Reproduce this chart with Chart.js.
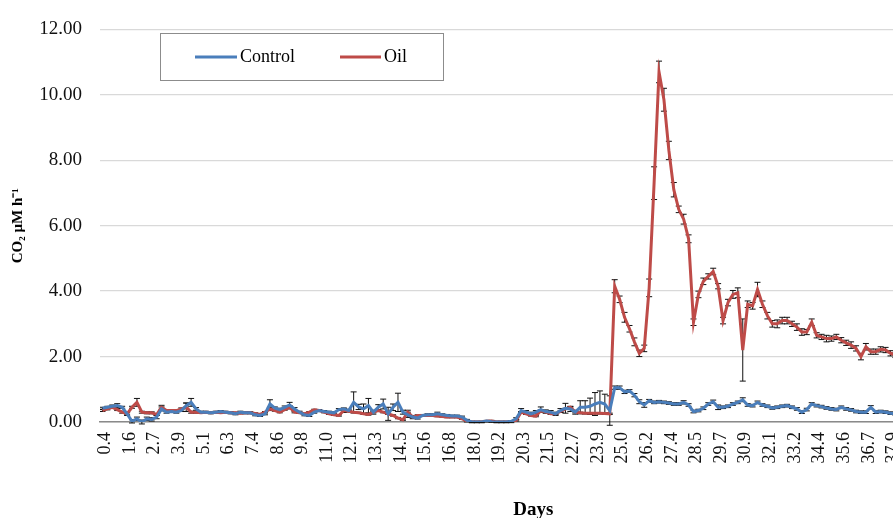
<!DOCTYPE html>
<html><head><meta charset="utf-8">
<script src="https://cdn.jsdelivr.net/npm/chart.js@4"></script>
<style>html,body{margin:0;padding:0;overflow:hidden;background:#fff}#wrap{position:absolute;left:0;top:0;width:996px;height:518px}</style>
</head><body><div id="wrap"><canvas id="c"></canvas></div>
<script>
// Tick labels (Days), one every 5 measurements
const tickLabels = ['0.4','1.6','2.7','3.9','5.1','6.3','7.4','8.6','9.8','11.0','12.1','13.3','14.5','15.6','16.8','18.0','19.2','20.3','21.5','22.7','23.9','25.0','26.2','27.4','28.5','29.7','30.9','32.1','33.2','34.4','35.6','36.7','37.9','39.1','40.3','41.4'];
const POINTS_PER_TICK = 5;
const seriesNames = ['Control','Oil'];

const control = [
0.42,0.45,0.48,0.50,0.45,0.25,0.02,0.10,0.00,0.10,
0.08,0.15,0.40,0.30,0.32,0.30,0.35,0.50,0.60,0.40,
0.30,0.30,0.28,0.30,0.32,0.30,0.28,0.25,0.30,0.28,
0.28,0.22,0.20,0.25,0.55,0.42,0.38,0.45,0.52,0.40,
0.30,0.22,0.20,0.30,0.35,0.32,0.30,0.28,0.38,0.40,
0.35,0.60,0.46,0.40,0.50,0.30,0.45,0.55,0.25,0.45,
0.60,0.30,0.22,0.15,0.12,0.20,0.22,0.22,0.25,0.22,
0.20,0.18,0.18,0.15,0.05,0.00,0.00,0.00,0.03,0.01,
0.00,0.00,0.00,0.02,0.10,0.35,0.30,0.25,0.30,0.38,
0.32,0.30,0.25,0.35,0.42,0.40,0.30,0.45,0.45,0.48,
0.55,0.60,0.55,0.35,1.05,1.05,0.92,0.95,0.82,0.62,
0.52,0.65,0.60,0.62,0.60,0.58,0.55,0.55,0.60,0.52,
0.32,0.35,0.42,0.55,0.62,0.45,0.45,0.48,0.55,0.60,
0.68,0.52,0.50,0.60,0.52,0.48,0.43,0.45,0.48,0.50,
0.45,0.40,0.30,0.38,0.55,0.50,0.47,0.43,0.40,0.38,
0.45,0.40,0.37,0.32,0.30,0.30,0.45,0.30,0.32,0.30,
0.27,0.25,0.28,0.30,0.27,0.25,0.30,0.28,0.26,0.25,
0.30,0.27,0.25,0.24,0.26,0.25];

const oil = [
0.35,0.40,0.45,0.38,0.30,0.25,0.45,0.60,0.30,0.28,
0.28,0.23,0.45,0.35,0.35,0.35,0.40,0.45,0.30,0.30,
0.28,0.30,0.28,0.30,0.28,0.30,0.28,0.28,0.27,0.28,
0.28,0.26,0.23,0.30,0.40,0.35,0.30,0.38,0.45,0.30,
0.28,0.25,0.30,0.37,0.35,0.30,0.25,0.22,0.20,0.35,
0.33,0.30,0.28,0.25,0.23,0.30,0.35,0.30,0.25,0.20,
0.12,0.07,0.30,0.15,0.20,0.20,0.20,0.20,0.18,0.17,
0.15,0.15,0.15,0.10,0.02,0.00,0.00,0.00,0.02,0.03,
0.00,0.00,0.00,0.00,0.05,0.30,0.25,0.20,0.18,0.35,
0.30,0.25,0.25,0.32,0.40,0.45,0.30,0.28,0.27,0.27,
0.27,0.27,0.26,0.25,4.15,3.75,3.20,2.85,2.45,2.10,
2.25,4.10,7.30,10.70,9.85,8.30,7.10,6.50,6.20,5.60,
3.05,3.90,4.30,4.45,4.60,4.15,3.10,3.65,3.90,3.95,
2.20,3.60,3.55,4.05,3.60,3.25,3.00,3.00,3.10,3.10,
3.00,2.90,2.75,2.75,3.05,2.65,2.60,2.55,2.55,2.60,
2.50,2.42,2.35,2.25,2.00,2.30,2.15,2.15,2.22,2.20,
2.10,2.05,2.10,2.00,1.95,2.00,1.90,1.95,1.85,1.90,
1.80,1.85,1.80,1.75,1.80,1.70];

const controlErr = [
.03,.03,.04,.06,.03,.05,.05,.05,.06,.05,
.05,.05,.06,.03,.03,.03,.03,.08,.12,.04,
.03,.03,.03,.03,.03,.03,.03,.03,.03,.03,
.03,.03,.03,.03,.13,.04,.04,.04,.08,.04,
.03,.03,.03,.03,.03,.03,.03,.03,.03,.03,
.04,.32,.08,.15,.22,.06,.08,.15,.20,.10,
.28,.06,.08,.05,.03,.03,.03,.03,.05,.03,
.03,.03,.03,.03,.03,.02,.02,.02,.02,.02,
.02,.02,.02,.02,.03,.06,.05,.05,.05,.08,
.05,.05,.05,.06,.15,.08,.06,.20,.20,.25,
.35,.35,.30,.45,.05,.05,.05,.04,.05,.06,
.07,.04,.04,.04,.04,.04,.04,.04,.05,.04,
.04,.04,.04,.04,.05,.07,.04,.04,.04,.04,
.06,.04,.04,.04,.04,.04,.04,.04,.04,.04,
.04,.04,.04,.04,.04,.04,.04,.04,.04,.04,
.04,.04,.04,.04,.04,.04,.05,.04,.04,.04,
.04,.04,.04,.04,.04,.04,.04,.04,.04,.04,
.04,.04,.04,.04,.04,.04];

const oilErr = [
.03,.03,.03,.03,.03,.03,.03,.12,.03,.03,
.03,.03,.06,.03,.03,.03,.03,.13,.03,.03,
.02,.02,.02,.02,.02,.02,.02,.02,.02,.02,
.02,.02,.02,.02,.05,.02,.02,.02,.05,.02,
.02,.02,.02,.02,.02,.02,.02,.02,.02,.06,
.02,.02,.02,.02,.02,.02,.02,.02,.02,.02,
.02,.02,.06,.02,.02,.02,.02,.02,.02,.02,
.02,.02,.02,.02,.02,.02,.02,.02,.02,.02,
.02,.02,.02,.02,.02,.02,.02,.02,.02,.02,
.02,.02,.02,.02,.02,.02,.02,.02,.02,.02,
.02,.02,.02,.02,.20,.10,.15,.10,.12,.10,
.10,.27,.50,.33,.35,.28,.22,.10,.15,.12,
.10,.10,.10,.08,.10,.08,.10,.10,.12,.15,
.95,.10,.10,.22,.10,.10,.10,.12,.10,.10,
.08,.10,.10,.08,.10,.08,.08,.10,.08,.08,
.08,.08,.10,.08,.10,.10,.08,.08,.08,.08,
.08,.08,.08,.08,.08,.08,.08,.08,.08,.08,
.08,.08,.08,.08,.08,.08];

const categories = control.map((_, i) =>
  i % POINTS_PER_TICK === 0 ? (tickLabels[i / POINTS_PER_TICK] || '') : '');

const SERIF = "'Liberation Serif', 'Times New Roman', serif";

// error bars drawn under the lines, as in the original
const errorBars = {
  id: 'errorBars',
  beforeDatasetsDraw(chart) {
    const { ctx, chartArea, scales: { y } } = chart;
    ctx.save();
    ctx.beginPath();
    ctx.rect(chartArea.left, chartArea.top - 5, chartArea.right - chartArea.left, chartArea.bottom - chartArea.top + 12);
    ctx.clip();
    ctx.strokeStyle = '#111';
    ctx.lineWidth = 1;
    chart.data.datasets.forEach((ds, di) => {
      const meta = chart.getDatasetMeta(di);
      ds.errors.forEach((e, i) => {
        const pt = meta.data[i];
        if (!pt) return;
        const v = ds.data[i];
        const yt = y.getPixelForValue(v + e);
        const yb = y.getPixelForValue(v - e);
        const x = pt.x;
        ctx.beginPath();
        ctx.moveTo(x, yt); ctx.lineTo(x, yb);
        ctx.moveTo(x - 3, yt); ctx.lineTo(x + 3, yt);
        ctx.moveTo(x - 3, yb); ctx.lineTo(x + 3, yb);
        ctx.stroke();
      });
    });
    ctx.restore();
  }
};

const boxLegend = {
  id: 'boxLegend',
  afterDraw(chart) {
    const { ctx } = chart;
    ctx.save();
    ctx.fillStyle = '#fff';
    ctx.fillRect(160, 33, 283, 47);
    ctx.strokeStyle = '#8c8c8c';
    ctx.lineWidth = 1;
    ctx.strokeRect(160.5, 33.5, 283, 47);
    const items = [{ x1: 195, x2: 237, tx: 240 }, { x1: 340, x2: 381, tx: 384 }];
    chart.data.datasets.forEach((ds, i) => {
      const it = items[i];
      ctx.strokeStyle = ds.borderColor;
      ctx.lineWidth = 3;
      ctx.beginPath(); ctx.moveTo(it.x1, 57); ctx.lineTo(it.x2, 57); ctx.stroke();
      ctx.fillStyle = '#000';
      ctx.font = '18px ' + SERIF;
      ctx.textBaseline = 'middle';
      ctx.textAlign = 'left';
      ctx.fillText(ds.label, it.tx, 57);
    });
    ctx.restore();
  }
};

new Chart(document.getElementById('c'), {
  type: 'line',
  data: {
    labels: categories,
    datasets: [
      { label: seriesNames[0], data: control, errors: controlErr, borderColor: '#4a7ebb', backgroundColor: '#4a7ebb', borderWidth: 3, pointRadius: 0, tension: 0 },
      { label: seriesNames[1], data: oil, errors: oilErr, borderColor: '#be4b48', backgroundColor: '#be4b48', borderWidth: 3, pointRadius: 0, tension: 0 }
    ]
  },
  options: {
    responsive: true,
    maintainAspectRatio: false,
    animation: false,
    layout: { padding: { left: 0, right: 4, top: 22, bottom: 0 } },
    plugins: { legend: { display: false }, tooltip: { enabled: false } },
    scales: {
      x: {
        type: 'category',
        offset: true,
        grid: { display: false, drawTicks: false },
        border: { display: true, color: '#8a8a8a', width: 1.5 },
        ticks: { autoSkip: false, maxRotation: 90, minRotation: 90, padding: 10, labelOffset: 3, color: '#111', font: { family: SERIF, size: 18 } },
        title: { display: true, text: 'Days', color: '#000', font: { family: SERIF, size: 19, weight: 'bold' }, padding: { top: 0, bottom: -3 } },
        afterFit(s) { s.height = 96; }
      },
      y: {
        min: 0, max: 12,
        grid: { color: '#d9d9d9', lineWidth: 1.3, drawTicks: false },
        border: { display: false },
        ticks: { stepSize: 2, padding: 18, color: '#111', font: { family: SERIF, size: 19 }, callback: v => Number(v).toFixed(2) },
        title: { display: true, text: 'CO₂ µM h⁻¹', color: '#000', font: { family: SERIF, size: 15, weight: 'bold' }, padding: { top: 9, bottom: 0 } },
        afterFit(s) { s.width = 100; }
      }
    }
  },
  plugins: [errorBars, boxLegend]
});
</script></body></html>
